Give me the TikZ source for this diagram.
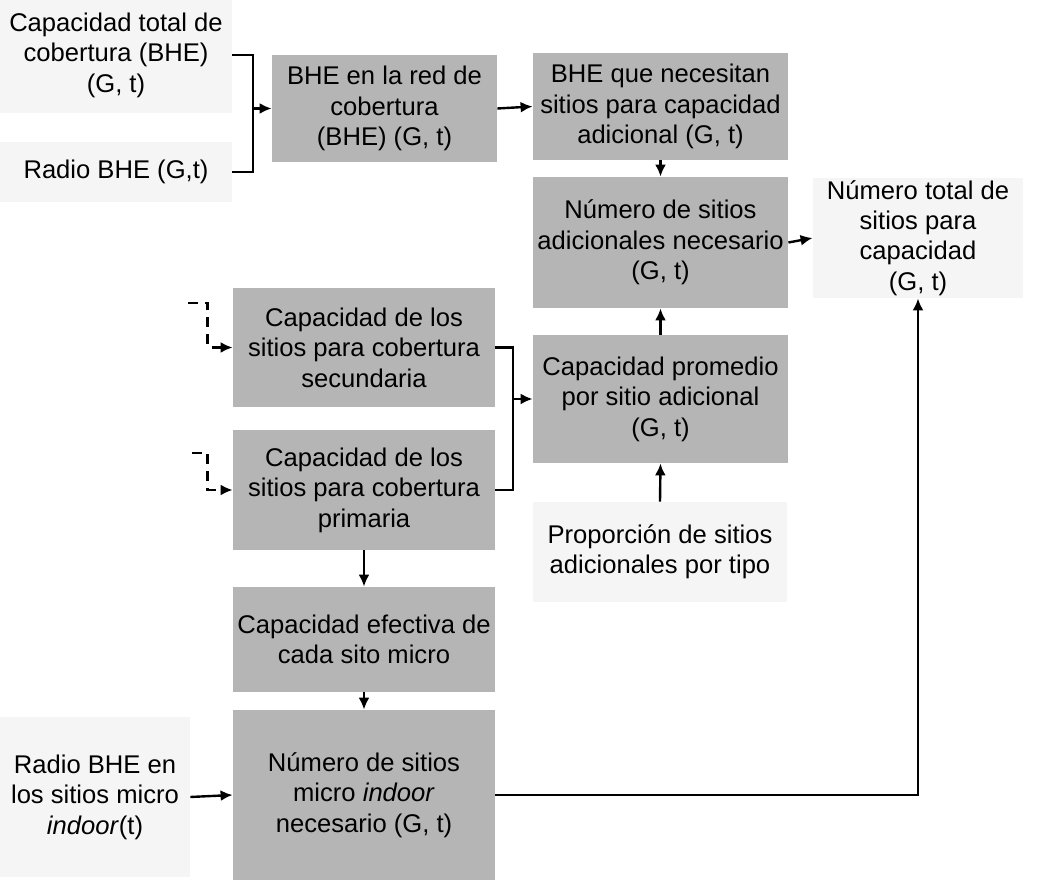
\documentclass[tikz,border=0pt]{standalone}
\usepackage{fontspec}
\setmainfont{Liberation Sans}
\usetikzlibrary{arrows.meta}

\tikzset{
    caja/.style={fill=gray!58, align=center, inner sep=0pt,
        minimum width=131pt, minimum height=60pt},
    suave/.style={fill=gray!8, align=center, inner sep=0pt},
    flecha/.style={line width=1.2pt, -{Latex[length=6pt,width=5.5pt]}},
    linea/.style={line width=1.2pt},
}

\begin{document}
\begin{tikzpicture}[x=0.5pt, y=-0.5pt, font=\fontsize{12.8}{15.2}\selectfont]
    \useasboundingbox (0,0) rectangle (1039,881);

    % entradas
    \node[suave, minimum width=116pt, minimum height=58pt] (captot) at (116,55) {Capacidad total de\\ cobertura (BHE)\\ (G, t)};
    \node[suave, minimum width=116pt, minimum height=30pt] (radio) at (116,172) {Radio BHE (G,t)};
    \node[suave, minimum width=95pt, minimum height=80pt] (radiomic) at (95,797) {Radio BHE en\\ los sitios micro\\ \textit{indoor}(t)};
    \node[suave, minimum width=127pt, minimum height=50pt] (prop) at (660,552) {Proporción de sitios\\ adicionales por tipo};
    \node[suave, minimum width=105pt, minimum height=60pt] (numtot) at (918,238) {Número total de\\ sitios para\\ capacidad\\ (G, t)};

    % cajas grises
    \node[caja, minimum width=112.5pt, minimum height=53.5pt] (bhe) at (384.5,108.5) {BHE en la red de\\ cobertura\\ (BHE) (G, t)};
    \node[caja, minimum width=127.5pt, minimum height=53.5pt] (bheq) at (660.5,106.5) {BHE que necesitan\\ sitios para capacidad\\ adicional (G, t)};
    \node[caja, minimum width=127.5pt, minimum height=65.5pt] (numad) at (660.5,242.5) {Número de sitios\\ adicionales necesario\\ (G, t)};
    \node[caja, minimum width=127.5pt, minimum height=64pt] (capprom) at (660.5,399) {Capacidad promedio\\ por sitio adicional\\ (G, t)};
    \node[caja, minimum height=59.5pt] (capsec) at (364,347.5) {Capacidad de los\\ sitios para cobertura\\ secundaria};
    \node[caja] (capprim) at (364,490) {Capacidad de los\\ sitios para cobertura\\ primaria};
    \node[caja, minimum height=52.5pt] (capefec) at (364,639.5) {Capacidad efectiva de\\ cada sito micro};
    \node[caja, minimum height=85pt] (nummic) at (364,795) {Número de sitios\\ micro \textit{indoor}\\ necesario (G, t)};

    % conexiones
    \coordinate (uno) at (253,108.5);
    \draw[linea] (captot.east) -| (uno);
    \draw[linea] (radio.east) -| (uno);
    \draw[flecha] (uno) -- (bhe.west);
    \draw[flecha] (bhe.east) -- (bheq.west);
    \draw[flecha] (bheq.south) -- (numad.north);
    \draw[flecha] (numad.east) -- (numtot.west);
    \draw[flecha] (capprom.north) -- (numad.south);
    \draw[flecha] (prop.north) -- (capprom.south);

    \coordinate (dos) at (513,399);
    \draw[linea] (capsec.east) -| (dos);
    \draw[linea] (capprim.east) -| (dos);
    \draw[flecha] (dos) -- (capprom.west);

    \coordinate (sinsec) at (188,303);
    \coordinate (sinprim) at (192,453);
    \draw[flecha, dash pattern=on 5pt off 3.5pt] (sinsec) -| ([xshift=-12.5pt]capsec.west) -- (capsec.west);
    \draw[flecha, dash pattern=on 5pt off 3.5pt] (sinprim) -| ([xshift=-12.5pt]capprim.west) -- (capprim.west);

    \draw[flecha] (capprim.south) -- (capefec.north);
    \draw[flecha] (capefec.south) -- (nummic.north);
    \draw[flecha] (radiomic.east) -- (nummic.west);
    \draw[flecha] (nummic.east) -| (numtot.south);
    %\node at (918,700) {};
\end{tikzpicture}
\end{document}
